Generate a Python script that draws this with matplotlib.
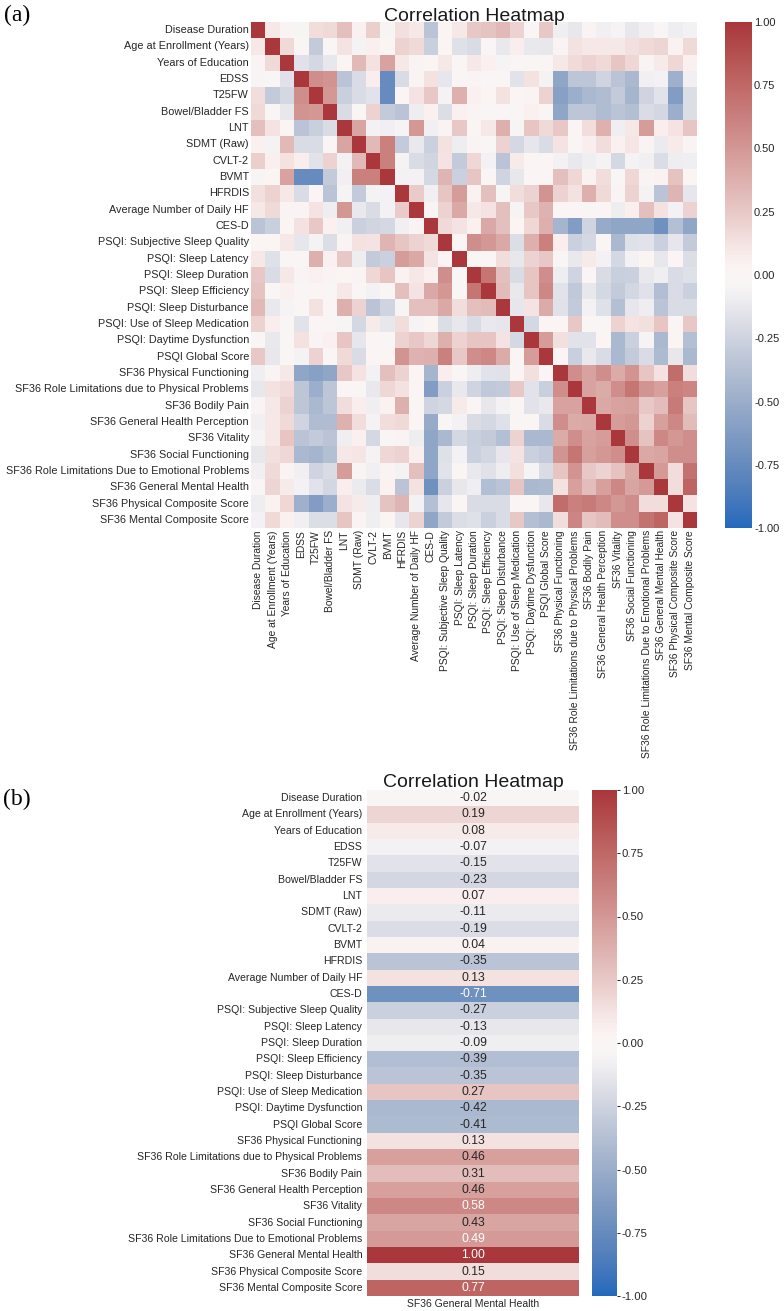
#Correlation heatmaps - full matrix (a) and SF36 General Mental Health column (b)

import numpy as np
import pandas as pd
import matplotlib
matplotlib.use('Agg')
import matplotlib.pyplot as plt
import seaborn as sns

# Variable names, top to bottom.
labels = ['Disease Duration', 'Age at Enrollment (Years)', 'Years of Education', 'EDSS', 'T25FW',
          'Bowel/Bladder FS', 'LNT', 'SDMT (Raw)', 'CVLT-2', 'BVMT', 'HFRDIS', 'Average Number of Daily HF',
          'CES-D', 'PSQI: Subjective Sleep Quality', 'PSQI: Sleep Latency', 'PSQI: Sleep Duration',
          'PSQI: Sleep Efficiency', 'PSQI: Sleep Disturbance', 'PSQI: Use of Sleep Medication',
          'PSQI: Daytime Dysfunction', 'PSQI Global Score', 'SF36 Physical Functioning',
          'SF36 Role Limitations due to Physical Problems', 'SF36 Bodily Pain', 'SF36 General Health Perception',
          'SF36 Vitality', 'SF36 Social Functioning', 'SF36 Role Limitations Due to Emotional Problems',
          'SF36 General Mental Health', 'SF36 Physical Composite Score', 'SF36 Mental Composite Score']

# Upper triangle of the correlation matrix. Each row starts at the diagonal.
upper = [
    [1, .1, .03, -.04, .15, .17, .3, .05, .22, -.04, .14, .1, -.35, .02, .1, .25, .28, .33, .2, -.03, .25, -.09, -.13, .03, -.08, -.05, -.13, -.08, -.02, -.1, -.07],
    [1, .17, -.03, -.3, -.03, .12, -.06, .06, .02, .2, .17, -.28, .02, -.17, -.2, -.02, -.12, .07, -.12, -.13, .03, .13, .1, .1, .1, .14, .17, .19, .04, .17],
    [1, -.16, -.22, -.13, .02, .33, .13, .45, .1, .03, .02, .1, -.03, .1, .05, -.05, -.03, -.03, -.03, .1, .16, .2, .17, .27, .18, .03, .08, .18, .05],
    [1, .55, .52, -.35, -.2, .07, -.75, -.2, .03, .13, -.14, -.01, .03, -.02, -.03, -.15, .13, -.06, -.55, -.33, -.33, -.25, -.35, -.42, -.08, -.07, -.48, -.08],
    [1, .5, -.28, -.2, -.15, -.75, .01, .12, .25, -.06, .38, .05, .02, .13, 0, .03, .2, -.6, -.5, -.42, -.4, -.3, -.45, -.25, -.15, -.62, -.18],
    [1, -.2, -.03, .2, -.3, -.35, -.1, .05, -.18, .05, .03, -.01, .01, -.01, .05, -.03, -.55, -.33, -.33, -.4, -.35, -.38, -.2, -.23, -.5, -.18],
    [1, .43, -.07, -.08, -.05, .5, -.08, .03, .25, .02, .1, .38, -.04, .27, .17, .25, 0, .15, .37, -.09, .1, .48, .07, .12, .27],
    [1, .33, .62, -.3, -.12, -.27, .13, -.1, .03, -.03, .2, -.22, -.14, -.2, .12, -.01, .07, .15, .05, .11, .03, -.11, .08, .03],
    [1, .62, -.06, -.2, -.24, .12, -.3, .18, -.07, -.35, .08, .02, .01, -.07, -.12, -.09, -.06, -.22, -.06, -.08, -.19, -.1, -.09],
    [1, -.07, -.07, -.22, .35, -.27, .27, -.03, -.25, -.13, -.03, .02, .3, .18, .04, .15, -.03, .18, .03, .04, .28, .02],
    [1, .24, -.08, .27, .47, .04, .3, -.04, .15, .2, .52, .2, .13, .38, .17, .03, .2, -.06, -.35, .35, -.14],
    [1, .03, .2, .42, .1, .12, .3, -.05, .25, .36, .01, .01, -.02, .01, -.1, .06, .3, .13, -.07, .2],
    [1, .17, .12, .05, .41, .3, .02, .18, .38, -.45, -.62, -.25, -.52, -.55, -.55, -.55, -.71, -.38, -.55],
    [1, .01, .55, .5, .42, -.18, .38, .62, .07, -.27, -.22, -.03, -.42, -.17, -.15, -.27, -.14, -.3],
    [1, -.02, -.03, .15, -.13, .2, .25, -.03, -.12, .08, -.07, -.22, -.07, .02, -.13, .01, -.18],
    [1, .68, .3, -.2, .27, .55, -.1, -.25, .01, -.2, -.28, -.27, -.12, -.09, -.2, -.17],
    [1, .32, -.12, .27, .58, -.15, -.32, -.13, -.22, -.3, -.23, -.16, -.39, -.2, -.27],
    [1, -.14, .12, .4, -.16, -.3, -.07, -.17, -.38, -.14, -.1, -.35, -.2, -.2],
    [1, -.22, 0, .01, .25, -.01, -.01, .2, .12, .14, .27, .01, .25],
    [1, .48, .14, -.15, -.15, .02, -.42, -.27, -.05, -.42, .02, -.38],
    [1, 0, -.28, -.12, -.2, -.42, -.3, -.2, -.41, -.13, -.42],
    [1, .55, .45, .55, .4, .52, .27, .13, .72, .15],
    [1, .45, .4, .55, .68, .52, .46, .62, .6],
    [1, .42, .45, .46, .25, .31, .65, .27],
    [1, .48, .5, .2, .46, .58, .32],
    [1, .55, .28, .58, .5, .55],
    [1, .42, .43, .55, .55],
    [1, .49, .15, .7],
    [1, .15, .77],
    [1, .12],
    [1],
]

# Values printed in panel (b).
mental_health = [-.02, .19, .08, -.07, -.15, -.23, .07, -.11, -.19, .04, -.35, .13, -.71, -.27, -.13, -.09, -.39,
                 -.35, .27, -.42, -.41, .13, .46, .31, .46, .58, .43, .49, 1.00, .15, .77]

# Building the full symmetric matrix.
n = len(labels)
corr = np.zeros((n, n))
for i, row in enumerate(upper):
    corr[i, i:] = row
    corr[i:, i] = row
corr = pd.DataFrame(corr, index=labels, columns=labels)
column = pd.DataFrame({'SF36 General Mental Health': mental_health}, index=labels)

sns.set_theme(style='white')
plt.rcParams['font.family'] = ['Liberation Sans', 'DejaVu Sans']
W, H = 784, 1311
fig = plt.figure(figsize=(W / 100, H / 100), dpi=100)


def px_axes(x0, y0, x1, y1):
    # Axes placed with pixel edges measured from the top left of the picture.
    return fig.add_axes([x0 / W, 1 - y1 / H, (x1 - x0) / W, (y1 - y0) / H])


text_color = '#262626'
cbar_ticks = np.arange(-1, 1.01, .25)

# Panel (a).
ax1 = px_axes(251, 22, 697, 528)
cax1 = px_axes(725, 22, 752, 528)
sns.heatmap(corr, ax=ax1, cbar_ax=cax1, cmap='vlag', vmin=-1, vmax=1, xticklabels=True, yticklabels=True,
            cbar_kws={'ticks': cbar_ticks, 'format': '%.2f'})
ax1.tick_params(axis='y', length=0, labelsize=7.85, pad=1.5, colors=text_color)
ax1.tick_params(axis='x', length=0, labelsize=7.35, pad=1.5, colors=text_color)
ax1.set_yticklabels(labels, rotation=0)
ax1.set_xticklabels(labels, rotation=90)
ax1.set_title('Correlation Heatmap', fontsize=14, pad=1, color='#1a1a1a')
cax1.tick_params(length=0, labelsize=8, pad=1.5, colors=text_color)

# Panel (b).
ax2 = px_axes(367, 790, 579, 1296)
cax2 = px_axes(592, 790, 617, 1296)
sns.heatmap(column, ax=ax2, cbar_ax=cax2, cmap='vlag', vmin=-1, vmax=1, annot=True, fmt='.2f',
            annot_kws={'fontsize': 8.8}, xticklabels=True, yticklabels=True,
            cbar_kws={'ticks': cbar_ticks, 'format': '%.2f'})
ax2.tick_params(axis='y', length=0, labelsize=7.6, pad=3.5, colors=text_color)
ax2.tick_params(axis='x', length=0, labelsize=7.5, pad=2.5, colors=text_color)
ax2.set_yticklabels(labels, rotation=0)
ax2.set_title('Correlation Heatmap', fontsize=14, pad=2.5, color='#1a1a1a')
cax2.tick_params(length=2, width=.7, labelsize=8.2, pad=1.5, colors=text_color)

# Panel letters.
fig.text(4 / W, 1 - 15 / H, '(a)', family='Liberation Serif', fontsize=17, va='center', color='black')
fig.text(3 / W, 1 - 799 / H, '(b)', family='Liberation Serif', fontsize=17, va='center', color='black')

fig.savefig('out.png', dpi=100)
